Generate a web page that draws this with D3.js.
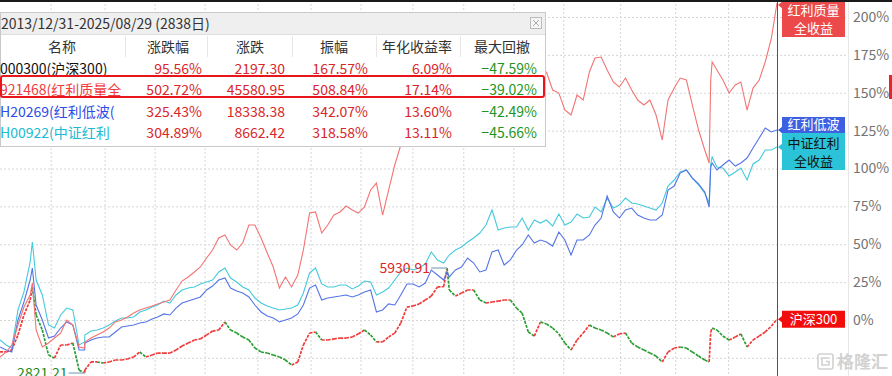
<!DOCTYPE html>
<html>
<head>
<meta charset="utf-8">
<script src="https://cdn.jsdelivr.net/npm/d3@7"></script>
<style>
  body { margin: 0; background: #fff; }
  svg { display: block; font-family: "Noto Sans CJK SC", "Noto Sans", sans-serif; }
</style>
</head>
<body>
<svg id="chart" width="892" height="376"></svg>
<script>
// month starts Jan 2015 .. Aug 2025, then the last trading day
var dates = d3.timeMonth.range(new Date(2015, 0, 1), new Date(2025, 7, 2)).concat([new Date(2025, 7, 29)]);

// values in % on the chart's right axis, one per month (2015 .. 2025-08, last = 2025-08-29)
var csi300 = [
  -21.1, -21.1, -19.8, -9.9, 3.3, 13.2, 3.3, -6.6, -23.1, -25.1, -16.5, -16.5,
  -15.2, -33.0, -33.0, -27.7, -27.7, -28.4, -27.7, -26.4, -26.4, -25.7, -24.4, -21.1,
  -24.4, -23.1, -21.8, -21.8, -21.8, -19.8, -17.2, -15.2, -13.2, -12.5, -9.9, -7.3,
  -6.6, -1.3, -6.6, -8.6, -11.2, -13.2, -18.5, -21.1, -21.8, -23.1, -24.4, -26.4,
  -29.7, -27.7, -16.5, -8.6, -7.9, -13.2, -13.2, -12.5, -11.9, -11.9, -11.2, -9.2,
  -6.6, -9.9, -14.5, -14.5, -11.2, -8.6, -2.0, 8.6, 9.2, 10.6, 13.2, 15.8,
  21.8, 22.0, 19.8, 15.8, 17.8, 19.8, 19.8, 13.2, 11.2, 11.9, 12.5, 13.2,
  13.2, 7.9, 4.6, -7.9, -10.6, -1.3, -2.6, -5.3, -9.2, -15.2, -19.8, -13.2,
  -8.6, -3.3, -5.3, -6.6, -8.6, -11.2, -9.2, -8.6, -15.2, -17.8, -19.8, -21.8,
  -23.8, -27.7, -21.1, -18.5, -17.8, -18.5, -21.1, -23.8, -26.4, -7.9, -6.6, -10.6,
  -13.2, -11.2, -9.2, -17.8, -13.2, -10.6, -7.9, -4.0, 0.5
];
var divQuality = [
  -24.4, -21.1, -16.5, -3.3, 8.6, 16.5, -6.6, -17.8, -15.2, -11.9, -8.6, 0,
  -3.3, -17.8, -14.5, -11.9, -9.9, -7.9, -5.3, -1.3, 0, 2.0, 4.6, 6.6,
  7.9, 9.2, 10.6, 11.9, 13.2, 19.8, 25.7, 28.4, 31.7, 35.0, 40.9, 46.2,
  54.1, 56.1, 49.5, 46.2, 50.8, 62.7, 62.7, 54.1, 44.2, 35.0, 21.1, 28.4,
  21.8, 29.7, 46.2, 70.6, 71.3, 57.4, 62.7, 69.3, 71.3, 75.2, 72.6, 70.6,
  74.6, 85.8, 90.4, 69.3, 85.8, 102.3, 115.5, 122.1, 128.7, 135.3, 141.9, 148.5,
  151.8, 155.1, 145.2, 148.5, 151.8, 155.1, 151.8, 155.1, 158.4, 159.7, 157.1, 161.7,
  159.7, 158.4, 161.7, 163.7, 165.0, 163.7, 163.7, 151.8, 149.8, 138.6, 135.3, 148.5,
  145.2, 163.7, 172.9, 173.6, 165.0, 157.1, 153.8, 159.7, 151.8, 145.2, 141.9, 145.2,
  135.3, 118.8, 145.2, 153.1, 159.7, 158.4, 141.9, 125.4, 112.2, 158.4, 165.0, 158.4,
  149.8, 155.1, 157.1, 138.6, 153.1, 158.4, 170.3, 186.1, 209.2
];
var lowVol = [
  -17.8, -19.8, -21.1, 0, 11.9, 26.4, 9.9, 0, -11.9, -10.6, -5.3, -1.3,
  -3.3, -19.8, -15.2, -13.2, -11.9, -11.2, -11.2, -7.9, -4.6, -4.0, -3.3, -2.0,
  -1.3, 0.7, 2.0, 4.0, 3.3, 7.9, 11.2, 12.5, 13.9, 15.2, 19.8, 22.4,
  26.4, 27.7, 21.1, 19.1, 17.8, 15.2, 9.9, 5.3, 2.6, 1.3, -1.3, 0,
  1.3, 4.0, 9.9, 21.1, 23.1, 13.2, 14.5, 15.2, 15.8, 16.5, 15.2, 16.5,
  18.5, 19.8, 5.3, 6.6, 10.6, 9.9, 16.5, 23.8, 23.8, 21.8, 24.4, 33.0,
  29.7, 26.4, 28.4, 33.0, 35.0, 40.9, 37.6, 31.7, 33.0, 44.9, 46.2, 36.3,
  39.6, 46.2, 49.5, 56.1, 50.8, 52.8, 51.5, 48.8, 58.1, 52.8, 42.9, 52.8,
  52.8, 56.1, 62.7, 67.3, 81.8, 71.3, 67.3, 72.6, 73.9, 69.3, 67.3, 66.0,
  66.0, 69.3, 85.8, 88.4, 97.0, 99.0, 93.7, 89.8, 84.5, 101.0, 99.0, 102.3,
  105.6, 101.6, 103.6, 106.9, 113.5, 120.1, 126.7, 124.1, 125.4
];
var csiDividend = [
  -13.2, -16.5, -18.5, 6.6, 18.5, 38.3, 26.4, 16.5, -3.3, -5.3, 3.3, 7.9,
  6.6, -16.5, -9.9, -7.3, -6.6, -5.3, -3.3, -0.7, 1.3, 1.3, 2.0, 5.3,
  6.6, 8.6, 9.9, 12.5, 11.2, 16.5, 19.8, 21.1, 21.8, 23.8, 25.1, 26.4,
  31.7, 34.3, 27.7, 25.1, 21.8, 19.8, 14.5, 11.2, 9.2, 7.9, 6.6, 7.3,
  7.9, 9.9, 17.8, 31.0, 34.3, 23.8, 21.8, 21.8, 23.1, 23.1, 20.5, 22.4,
  25.7, 25.1, 16.5, 18.5, 21.1, 26.4, 31.7, 34.3, 33.0, 34.3, 37.0, 44.9,
  39.6, 37.6, 42.9, 46.2, 48.2, 51.5, 54.1, 57.4, 62.7, 72.6, 59.4, 60.7,
  61.4, 61.4, 67.3, 59.4, 66.0, 64.0, 66.0, 62.0, 70.0, 62.7, 64.7, 70.0,
  67.3, 68.0, 74.6, 71.3, 80.5, 73.9, 75.9, 80.5, 77.2, 76.6, 75.2, 73.9,
  72.6, 77.2, 88.4, 92.4, 97.7, 99.0, 93.7, 89.1, 83.8, 103.0, 101.0, 100.3,
  95.0, 97.7, 100.3, 92.4, 103.0, 105.6, 112.2, 112.2, 114.2
];

// turning points between month starts
var keyDates = ["2015-06-12", "2016-02-29", "2021-02-18", "2024-09-23", "2024-10-08"];
var csi300Key = [21.8, -35.0, 34.3, -27.7, -5.3];
var divQualityKey = [24.4, -18.5, 160.0, 103.6, 170.3];
var lowVolKey = [34.3, -19.8, 31.7, 74.6, 103.6];
var csiDividendKey = [51.5, -14.5, 40.9, 77.2, 107.6];

var csiHigh = 5930.91, csiLow = 2821.21;

var gridTicks = [-25, 0, 25, 50, 75, 100, 125, 150, 175, 200];
var labelTicks = [0, 25, 50, 75, 100, 125, 150, 175, 200];
var gridDates = ["2015-09-12", "2016-06-08", "2017-02-14", "2017-10-22", "2018-07-14", "2019-04-06",
  "2019-12-12", "2020-08-28", "2021-05-10", "2022-01-16", "2022-09-23", "2023-07-05", "2024-04-06", "2024-12-27"];

// summary table
var period = "2013/12/31-2025/08/29 (2838日)";
var columns = ["名称", "涨跌幅", "涨跌", "振幅", "年化收益率", "最大回撤"];
var names = ["000300(沪深300)", "921468(红利质量全收益)", "H20269(红利低波(全收益))", "H00922(中证红利全收益)"];
var changePct = [95.56, 502.72, 325.43, 304.89];
var change = [2197.30, 45580.95, 18338.38, 8662.42];
var amplitude = [167.57, 508.84, 342.07, 318.58];
var annualized = [6.09, 17.14, 13.60, 13.11];
var maxDrawdown = [-47.59, -39.02, -42.49, -45.66];

var W = 892, H = 376, plotRight = 777, axisX = 848;
var parse = d3.timeParse("%Y-%m-%d");
var svg = d3.select("#chart");

var x = d3.scaleTime().domain([dates[0], dates[dates.length - 1]]).range([0, plotRight]);
var y = d3.scaleLinear().domain([0, 200]).range([320, 17]);

function series(vals, keys) {
  var pts = dates.map(function(d, i) { return {date: d, value: vals[i]}; });
  keyDates.forEach(function(s, i) { pts.push({date: parse(s), value: keys[i]}); });
  return pts.sort(function(a, b) { return a.date - b.date; });
}

var csiPts = series(csi300, csi300Key),
    dqPts = series(divQuality, divQualityKey),
    lvPts = series(lowVol, lowVolKey),
    cdPts = series(csiDividend, csiDividendKey);

svg.append("rect").attr("width", W).attr("height", H).attr("fill", "#fff");

// grid
svg.append("g")
    .call(d3.axisLeft(y).tickValues(gridTicks).tickSize(-axisX).tickFormat(""))
    .call(function(g) { g.select(".domain").remove(); })
    .selectAll("line").attr("stroke", "#d6d6d6").attr("stroke-dasharray", "2,2");

svg.append("g")
    .call(d3.axisBottom(x).tickValues(gridDates.map(parse)).tickSize(H).tickFormat(""))
    .call(function(g) { g.select(".domain").remove(); })
    .selectAll("line").attr("stroke", "#d6d6d6").attr("stroke-dasharray", "2,2");

svg.append("line").attr("x1", axisX + 0.5).attr("x2", axisX + 0.5).attr("y1", 0).attr("y2", H)
    .attr("stroke", "#e6e6e6");

// right axis
var yAxis = svg.append("g")
    .attr("transform", "translate(" + (axisX + 1) + ",0)")
    .call(d3.axisRight(y).tickValues(labelTicks).tickSize(0).tickPadding(4).tickFormat(function(d) { return d + "%"; }));
yAxis.select(".domain").remove();
yAxis.selectAll("text").attr("fill", "#737373").style("font-size", "14px")
    .style("font-family", '"Noto Sans CJK SC", sans-serif');

// lines
svg.append("clipPath").attr("id", "plot").append("rect")
    .attr("x", 0).attr("y", 2).attr("width", plotRight).attr("height", H);
var plot = svg.append("g").attr("clip-path", "url(#plot)");

var line = d3.line().x(function(d) { return x(d.date); }).y(function(d) { return y(d.value); });

// CSI 300 drawn as up/down coloured strokes
plot.selectAll(".csi").data(d3.pairs(csiPts)).enter().append("line")
    .attr("x1", function(p) { return x(p[0].date); })
    .attr("y1", function(p) { return y(p[0].value); })
    .attr("x2", function(p) { return x(p[1].date); })
    .attr("y2", function(p) { return y(p[1].value); })
    .attr("stroke", function(p) { return p[1].value >= p[0].value ? "#f03a3a" : "#2a9d35"; })
    .attr("stroke-width", 1.7)
    .attr("stroke-dasharray", "3,1.2");

plot.append("path").datum(cdPts).attr("d", line)
    .attr("fill", "none").attr("stroke", "#45c9dc").attr("stroke-width", 1.1);
plot.append("path").datum(lvPts).attr("d", line)
    .attr("fill", "none").attr("stroke", "#5474e6").attr("stroke-width", 1.1);
plot.append("path").datum(dqPts).attr("d", line)
    .attr("fill", "none").attr("stroke", "#f27474").attr("stroke-width", 1.1);

// high / low annotations for CSI 300
var hi = d3.greatest(csiPts, function(d) { return d.value; }),
    lo = d3.least(csiPts, function(d) { return d.value; });
[[hi, csiHigh, "#e02424"], [lo, csiLow, "#1d8a26"]].forEach(function(a) {
  var px = x(a[0].date), py = y(a[0].value);
  svg.append("line").attr("x1", px - 16).attr("x2", px).attr("y1", py).attr("y2", py)
      .attr("stroke", "#9fb8c6").attr("stroke-width", 1.5);
  svg.append("text").attr("x", px - 17).attr("y", py).attr("dy", "0.35em")
      .attr("text-anchor", "end").attr("fill", a[2]).style("font-size", "14px")
      .text(d3.format(".2f")(a[1]));
});

// cursor line
svg.append("line").attr("x1", plotRight + 0.5).attr("x2", plotRight + 0.5).attr("y1", 0).attr("y2", H)
    .attr("stroke", "#555").attr("stroke-width", 1);

// end labels (one text element per label, lines as tspans)
function endLabel(top, h, lines, lineY, fill, color, pointY) {
  var g = svg.append("g");
  var py = Math.max(top + 3, Math.min(top + h - 3, pointY));
  g.append("path").attr("d", "M" + (plotRight + 1) + "," + py + "L" + (plotRight + 6) + "," + (py - 4) +
      "L" + (plotRight + 6) + "," + (py + 4) + "Z").attr("fill", fill);
  g.append("rect").attr("x", plotRight + 5).attr("y", top).attr("width", 63).attr("height", h).attr("fill", fill);
  var txt = g.append("text").attr("text-anchor", "middle").attr("fill", color).style("font-size", "13px");
  lines.forEach(function(s, i) {
    txt.append("tspan").attr("x", plotRight + 36.5).attr("y", top + lineY[i]).attr("dy", "0.36em").text(s);
  });
}
var dqEnd = y(dqPts[dqPts.length - 1].value),
    lvEnd = y(lvPts[lvPts.length - 1].value),
    cdEnd = y(cdPts[cdPts.length - 1].value),
    csiEnd = y(csiPts[csiPts.length - 1].value);
var cdTop = cdEnd - 14;
endLabel(Math.max(2, dqEnd - 17), 35, ["红利质量", "全收益"], [8.7, 26.5], "#ec4a4a", "#fff", dqEnd);
endLabel(cdTop - 16, 16, ["红利低波"], [7.5], "#3d60e2", "#fff", lvEnd);
endLabel(cdTop, 37, ["中证红利", "全收益"], [10.5, 28.5], "#2bc3d8", "#111", cdEnd);
endLabel(csiEnd - 8.5, 17, ["沪深300"], [8.5], "#f20d0d", "#fff", csiEnd);

svg.append("rect").attr("x", 889).attr("y", 75).attr("width", 3).attr("height", 24).attr("fill", "#e8262a");

// watermark
var wm = svg.append("g").attr("fill", "none").attr("stroke", "#d2d2d2").attr("stroke-width", 1.6);
wm.append("rect").attr("x", 818).attr("y", 354).attr("width", 15).attr("height", 15).attr("rx", 2);
wm.append("path").attr("d", "M829,358 L822,358 L822,365 L829,365 L829,361.5 L826,361.5");
svg.append("text").attr("x", 837).attr("y", 368).attr("fill", "#d2d2d2")
    .style("font-size", "17px").style("font-weight", "bold").text("格隆汇");

// top bar
svg.append("rect").attr("width", W).attr("height", 2).attr("fill", "#1a1a1a");

// summary table
var t = svg.append("g");
t.append("rect").attr("x", 0.5).attr("y", 12.5).attr("width", 545).attr("height", 134)
    .attr("fill", "#fff").attr("stroke", "#c9c9c9");
t.append("rect").attr("x", 1).attr("y", 13).attr("width", 544).attr("height", 21).attr("fill", "#efefef");
t.append("line").attr("x1", 1).attr("x2", 545).attr("y1", 34.5).attr("y2", 34.5).attr("stroke", "#dedede");
t.append("text").attr("x", 1).attr("y", 28.5).attr("fill", "#333").style("font-size", "14px").text(period);
t.append("rect").attr("x", 530.5).attr("y", 17.5).attr("width", 11).attr("height", 11)
    .attr("fill", "#f6f6f6").attr("stroke", "#bbb");
t.append("path").attr("d", "M533,20 L539,26 M539,20 L533,26").attr("stroke", "#aaa").attr("stroke-width", 1);

var colRight = [0, 202, 285, 368, 452, 537];
var headCenter = [62, 168, 250, 334, 417, 502];
[125, 207, 292, 376, 460].forEach(function(sx) {
  t.append("line").attr("x1", sx + 0.5).attr("x2", sx + 0.5).attr("y1", 36).attr("y2", 57).attr("stroke", "#e6e6e6");
});
columns.forEach(function(c, i) {
  t.append("text").attr("x", headCenter[i]).attr("y", 51.5).attr("text-anchor", "middle")
      .attr("fill", "#333").style("font-size", "14px").text(c);
});

var nameColors = ["#111", "#f03c3c", "#2b4ce6", "#20b9d2"];
var rowY = [73.5, 95, 116.5, 138];
var pct = function(v) { return d3.format(".2f")(v) + "%"; };
var num = d3.format(".2f");
names.forEach(function(n, i) {
  var ry = rowY[i];
  var nt = t.append("text").attr("x", 0).attr("y", ry)
      .attr("fill", nameColors[i]).style("font-size", "14px").text(n);
  // the name column is narrow: cut the name to fit
  var s = n;
  while (s.length > 1 && nt.node().getComputedTextLength() > 123) {
    s = s.slice(0, -1);
    nt.text(s);
  }
  var vals = [pct(changePct[i]), num(change[i]), pct(amplitude[i]), pct(annualized[i]), pct(maxDrawdown[i])];
  vals.forEach(function(v, j) {
    t.append("text").attr("x", colRight[j + 1]).attr("y", ry).attr("text-anchor", "end")
        .attr("fill", j === 4 ? "#1e951e" : "#d8262a").style("font-size", "14px").text(v);
  });
});
t.append("rect").attr("x", 1).attr("y", 76).attr("width", 543).attr("height", 21).attr("rx", 2)
    .attr("fill", "none").attr("stroke", "#e8151b").attr("stroke-width", 2);
</script>
</body>
</html>
